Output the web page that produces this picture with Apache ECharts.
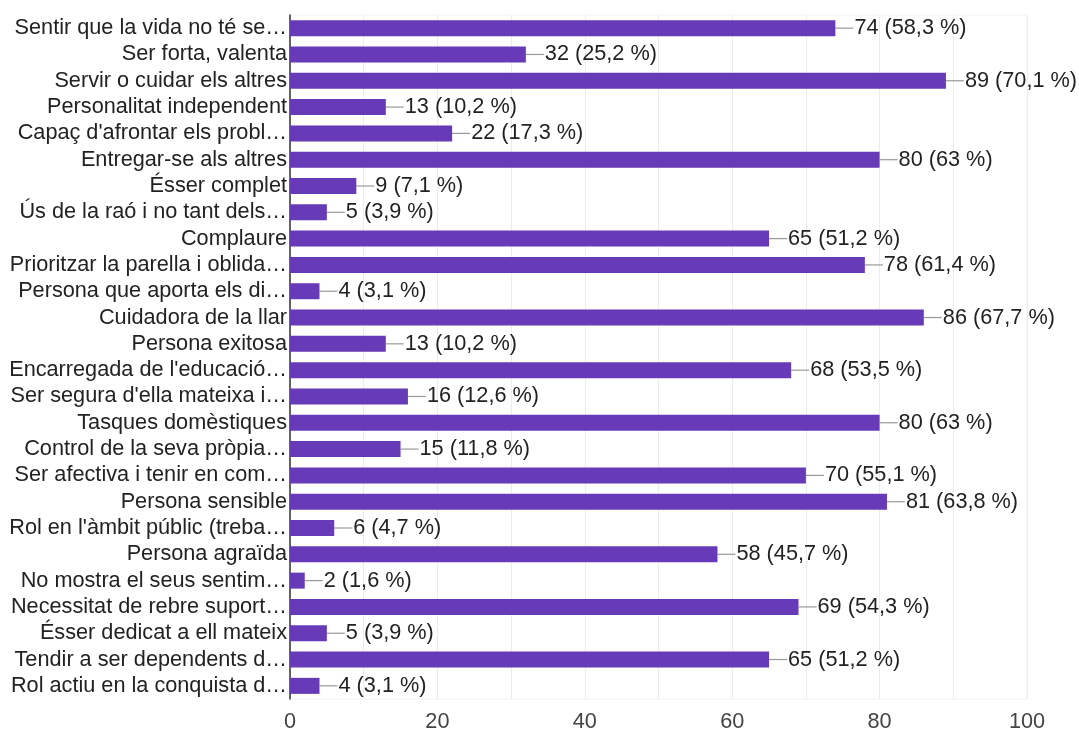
<!DOCTYPE html>
<html>
<head>
<meta charset="utf-8">
<script src="https://cdn.jsdelivr.net/npm/echarts@6/dist/echarts.min.js"></script>
<style>
  html, body { margin: 0; padding: 0; background: #fff; }
  #chart { width: 1079px; height: 733px; }
</style>
</head>
<body>
<div id="chart"></div>
<script>
// Survey answers (truncated as displayed) and their response counts
const categories = [
  "Sentir que la vida no té se…",
  "Ser forta, valenta",
  "Servir o cuidar els altres",
  "Personalitat independent",
  "Capaç d'afrontar els probl…",
  "Entregar-se als altres",
  "Ésser complet",
  "Ús de la raó i no tant dels…",
  "Complaure",
  "Prioritzar la parella i oblida…",
  "Persona que aporta els di…",
  "Cuidadora de la llar",
  "Persona exitosa",
  "Encarregada de l'educació…",
  "Ser segura d'ella mateixa i…",
  "Tasques domèstiques",
  "Control de la seva pròpia…",
  "Ser afectiva i tenir en com…",
  "Persona sensible",
  "Rol en l'àmbit públic (treba…",
  "Persona agraïda",
  "No mostra el seus sentim…",
  "Necessitat de rebre suport…",
  "Ésser dedicat a ell mateix",
  "Tendir a ser dependents d…",
  "Rol actiu en la conquista d…"
];
const counts = [74, 32, 89, 13, 22, 80, 9, 5, 65, 78, 4, 86, 13, 68, 16, 80, 15, 70, 81, 6, 58, 2, 69, 5, 65, 4];
const percents = ["58,3", "25,2", "70,1", "10,2", "17,3", "63", "7,1", "3,9", "51,2", "61,4", "3,1", "67,7", "10,2", "53,5", "12,6", "63", "11,8", "55,1", "63,8", "4,7", "45,7", "1,6", "54,3", "3,9", "51,2", "3,1"];
const xTicks = [0, 20, 40, 60, 80, 100];

const FONT = "'Liberation Sans', Arial, sans-serif";
const FS = 21.7;
const chart = echarts.init(document.getElementById('chart'), null, { renderer: 'canvas' });

chart.setOption({
  animation: false,
  backgroundColor: '#fff',
  grid: { left: 290, right: 52, top: 15, bottom: 34, show: true, borderColor: '#f2f2f2', borderWidth: 1 },
  xAxis: {
    type: 'value',
    min: 0,
    max: 100,
    interval: 10,
    axisLine: { show: false },
    axisTick: { show: false },
    splitLine: { show: true, lineStyle: { color: '#ececec', width: 1 } },
    axisLabel: {
      margin: 12,
      color: '#444',
      fontFamily: FONT,
      fontSize: FS,
      formatter: v => (xTicks.indexOf(v) >= 0 ? String(v) : '')
    }
  },
  yAxis: {
    type: 'category',
    data: categories,
    inverse: true,
    axisLine: { show: true, lineStyle: { color: '#333', width: 1.5 } },
    axisTick: { show: false },
    splitLine: { show: false },
    axisLabel: { interval: 0, margin: 3, color: '#222', fontFamily: FONT, fontSize: FS }
  },
  series: [
    {
      type: 'bar',
      data: counts,
      barWidth: 16,
      itemStyle: { color: '#673ab7' },
      label: {
        show: true,
        position: 'right',
        distance: 19,
        color: '#222',
        fontFamily: FONT,
        fontSize: FS,
        formatter: p => counts[p.dataIndex] + ' (' + percents[p.dataIndex] + ' %)'
      },
      z: 3
    },
    {
      // short gray leader from each bar end to its label
      type: 'custom',
      data: counts.map((v, i) => [v, i]),
      encode: { x: 0, y: 1 },
      renderItem: (params, api) => {
        const p = api.coord([api.value(0), api.value(1)]);
        return {
          type: 'line',
          shape: { x1: p[0], y1: p[1], x2: p[0] + 18, y2: p[1] },
          style: { stroke: '#999', lineWidth: 1.2 }
        };
      },
      z: 2,
      silent: true
    }
  ]
});
</script>
</body>
</html>
